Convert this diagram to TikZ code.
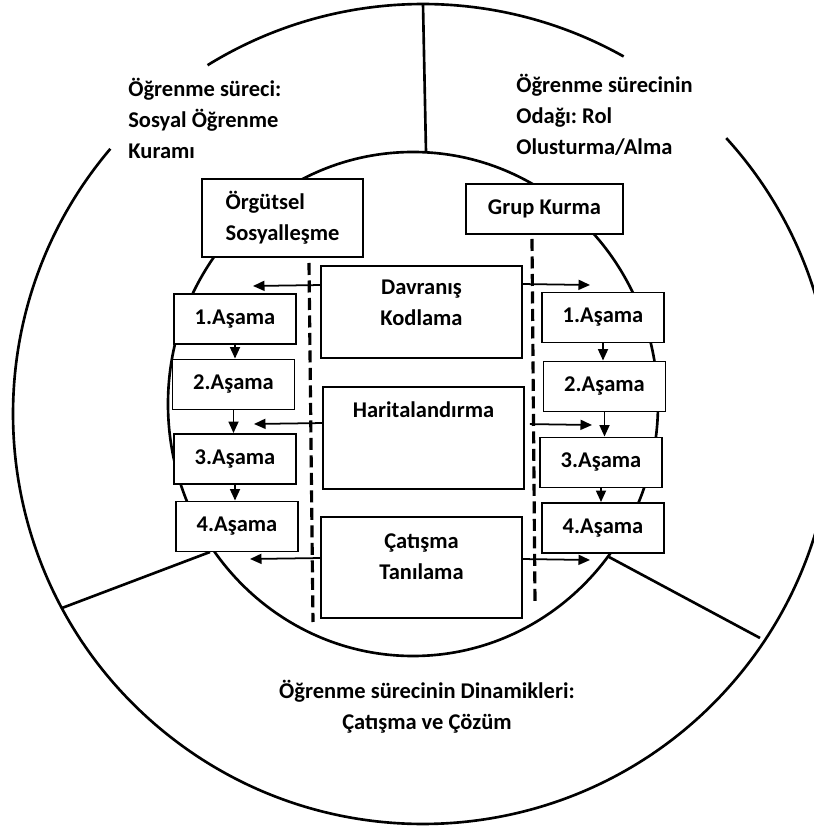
\documentclass[tikz,border=0pt]{standalone}
\usepackage{fontspec}
\setmainfont{Carlito}
\usetikzlibrary{calc,arrows.meta}
\frenchspacing

\begin{document}
\begin{tikzpicture}[
    every node/.style={font=\fontsize{12.8}{17.6}\selectfont\bfseries},
    ring/.style={line width=1.5pt},
    box/.style={draw, line width=1.1pt, fill=white},
    asama/.style={box, minimum width=2.44cm, minimum height=1cm, inner sep=0pt},
    midbox/.style={box, minimum width=4.02cm, inner sep=0pt},
    flow/.style={line width=1pt, -{Triangle[length=2.3mm,width=2mm]}},
    divider/.style={line width=1.8pt, dash pattern=on 2.4mm off 1.1mm},
    caption/.style={inner sep=0pt}
]
			%%%%% FRAME %%%%%
			\useasboundingbox (0,0) rectangle (16.28,16.62);
			\clip (0,0) rectangle (16.28,16.62);
			
			\coordinate (outer) at (8.46,8.34);
			\coordinate (inner) at (8.26,8.54);
			
			%%%%% RINGS %%%%%
			\draw[ring] (outer) ++(60.7:8.2) arc (60.7:121.7:8.2);
			\draw[ring] (outer) ++(139.7:8.2) arc (139.7:402.3:8.2);
			\draw[ring] (inner) ellipse (4.9 and 5.04);
			
			\draw[ring] (8.46,16.54) -- (8.52,13.58);
			\draw[ring] (1.24,4.46) -- (4.2,5.58);
			\draw[ring] (12.18,5.48) -- (15.2,3.86);
			
			%%%%% LABELS %%%%%
			\node[caption, anchor=west, align=left] (surec) at (2.56,14.25) {Öğrenme süreci:\\Sosyal Öğrenme\\Kuramı};
			\node[caption, anchor=west, align=left] (odak) at (10.32,14.32) {Öğrenme sürecinin\\Odağı: Rol\\Olusturma/Alma};
			\node[caption, align=center] (dinamik) at (8.54,2.48) {Öğrenme sürecinin Dinamikleri:\\Çatışma ve Çözüm};
			
			%%%%% TOP BOXES %%%%%
			\node[box, minimum width=3.22cm, minimum height=1.56cm, align=left] (orgut) at (5.65,12.26) {Örgütsel\\Sosyalleşme};
			\node[box, minimum width=3.14cm, minimum height=1cm] (grup) at (10.89,12.44) {Grup Kurma};
			
			\draw[divider] (6.18,11.36) -- (6.26,4.18);
			\draw[divider] (10.64,11.84) -- (10.70,4.58);
			
			%%%%% MIDDLE %%%%%
			\node[midbox, minimum height=1.84cm] (davranis) at (8.43,10.38) {};
			\node[anchor=north, align=center, inner sep=0pt] (davranis-txt) at ([yshift=-3mm]davranis.north) {Davranış\\Kodlama};
			\node[midbox, minimum height=2.04cm] (harita) at (8.47,7.86) {};
			\node[anchor=north, inner sep=0pt] (harita-txt) at ([yshift=-3mm]harita.north) {Haritalandırma};
			\node[midbox, minimum height=2.02cm] (catisma) at (8.43,5.27) {};
			\node[anchor=north, align=center, inner sep=0pt] (catisma-txt) at ([yshift=-3.5mm]catisma.north) {Çatışma\\Tanılama};
			
			%%%%% STAGES %%%%%
			\node[asama] (l1) at (4.70,10.24) {1.Aşama};
			\node[asama] (l2) at (4.67,8.93) {2.Aşama};
			\node[asama] (l3) at (4.70,7.44) {3.Aşama};
			\node[asama] (l4) at (4.74,6.09) {4.Aşama};
			\node[asama] (r1) at (12.06,10.27) {1.Aşama};
			\node[asama] (r2) at (12.09,8.89) {2.Aşama};
			\node[asama] (r3) at (12.02,7.37) {3.Aşama};
			\node[asama] (r4) at (12.06,6.06) {4.Aşama};
			
			\draw[flow] (l1.south) -- (l1.south |- l2.north);
			\draw[flow] (l2.south) -- (l2.south |- l3.north);
			\draw[flow] (l3.south) -- (l3.south |- l4.north);
			\draw[flow] (r1.south) -- (r1.south |- r2.north);
			\draw[flow] (r2.south) -- (r2.south |- r3.north);
			\draw[flow] (r3.south) -- (r3.south |- r4.north);
			
			%%%%% SIDE ARROWS %%%%%
			\coordinate (dl) at (5.06,10.90);
			\coordinate (hl) at (5.08,8.14);
			\coordinate (cl) at (5.00,5.44);
			\coordinate (dr) at (11.80,10.92);
			\coordinate (hr) at (11.84,8.12);
			\coordinate (cr) at (11.80,5.42);
			
			\draw[flow] ([yshift=-4mm]davranis.north west) -- (dl);
			\draw[flow] ([yshift=-7.4mm]harita.north west) -- (hl);
			\draw[flow] ([yshift=-8.4mm]catisma.north west) -- (cl);
			\draw[flow] ([yshift=-3.8mm]davranis.north east) -- (dr);
			\draw[flow, shorten <=1mm] ([yshift=-7.6mm]harita.north east) -- (hr);
			\draw[flow] ([yshift=-8.6mm]catisma.north east) -- (cr);
\end{tikzpicture}
\end{document}
